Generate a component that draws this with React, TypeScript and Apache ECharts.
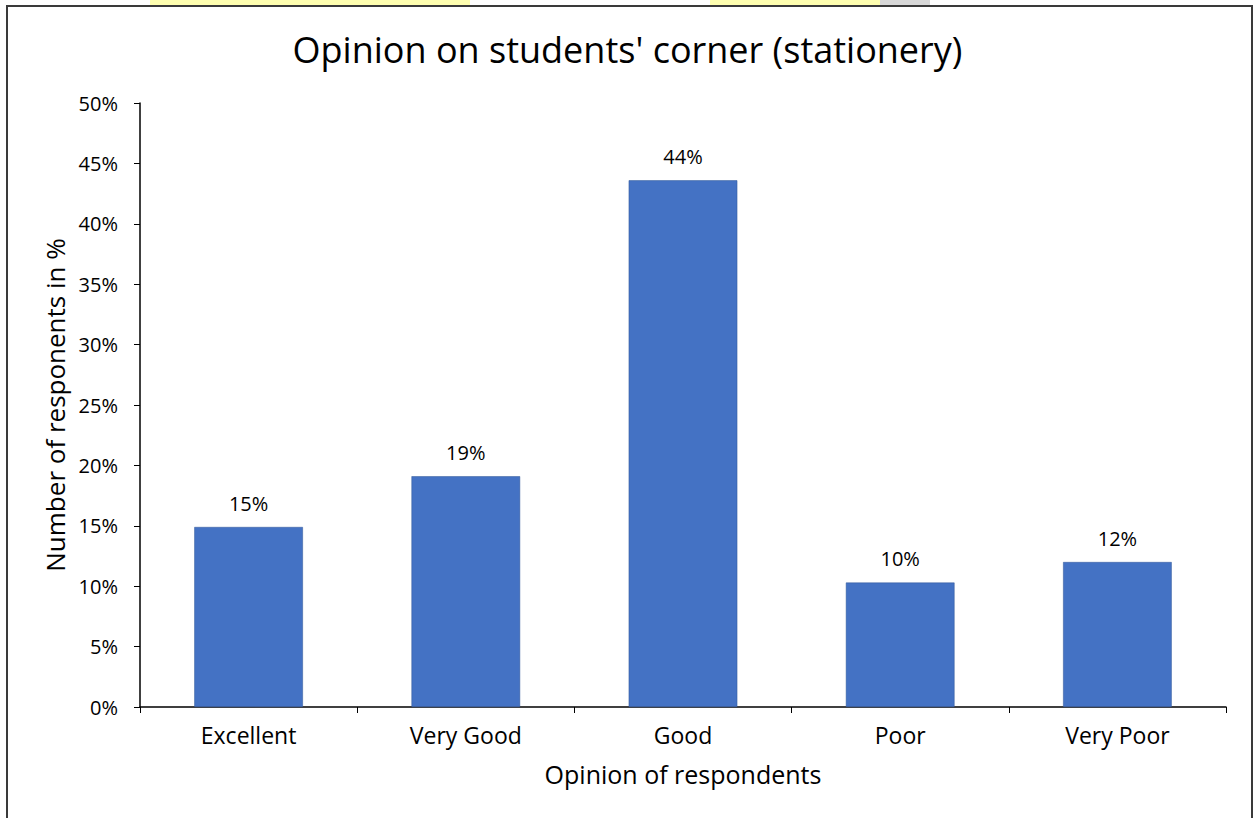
import React, { useEffect, useRef } from "react";
import * as echarts from "echarts";

const categories = ["Excellent", "Very Good", "Good", "Poor", "Very Poor"];
const values = [14.9, 19.1, 43.6, 10.3, 12.0];
const yTicks = { min: 0, max: 50, interval: 5 };
const titleText = "Opinion on students' corner (stationery)";
const xName = "Opinion of respondents";
const yName = "Number of responents in %";

const FONT = "'Open Sans', 'Noto Sans', sans-serif";

export default function App() {
  const ref = useRef<HTMLDivElement>(null);
  useEffect(() => {
    if (!ref.current) return;
    const chart = echarts.init(ref.current, undefined, { renderer: "svg" });
    chart.setOption({
      animation: false,
      backgroundColor: "#ffffff",
      title: {
        text: titleText,
        left: "center",
        top: 26,
        textStyle: { fontFamily: FONT, fontSize: 36, fontWeight: "normal", color: "#000" },
      },
      graphic: [
        { type: "rect", shape: { x: 150, y: 0, width: 320, height: 5 }, style: { fill: "#ffffb0" }, silent: true },
        { type: "rect", shape: { x: 710, y: 0, width: 170, height: 5 }, style: { fill: "#ffffb0" }, silent: true },
        { type: "rect", shape: { x: 880, y: 0, width: 50, height: 5 }, style: { fill: "#d8d8d8" }, silent: true },
        {
          type: "polyline",
          shape: { points: [[7, 818], [7, 6], [1252, 6], [1252, 818]] },
          style: { stroke: "#3a3a3a", lineWidth: 2, fill: "none" },
          silent: true,
        },
      ],
      grid: { left: 140, right: 29, top: 103, bottom: 111, containLabel: false },
      xAxis: {
        type: "category",
        data: categories,
        name: xName,
        nameLocation: "middle",
        nameGap: 54,
        nameTextStyle: { fontFamily: FONT, fontSize: 25, color: "#000" },
        axisLine: { lineStyle: { color: "#000", width: 1.5 } },
        axisTick: { show: true, alignWithLabel: false, length: 6, lineStyle: { color: "#000" } },
        axisLabel: { fontFamily: FONT, fontSize: 23, color: "#000", margin: 16 },
      },
      yAxis: {
        type: "value",
        min: yTicks.min,
        max: yTicks.max,
        interval: yTicks.interval,
        name: yName,
        nameLocation: "middle",
        nameGap: 70,
        nameTextStyle: { fontFamily: FONT, fontSize: 26, color: "#000" },
        axisLine: { show: true, lineStyle: { color: "#000", width: 1.5 } },
        axisTick: { show: true, length: 6, lineStyle: { color: "#000" } },
        splitLine: { show: false },
        axisLabel: { fontFamily: FONT, fontSize: 20, color: "#000", margin: 22, formatter: "{value}%" },
      },
      series: [
        {
          type: "bar",
          data: values,
          barWidth: "50%",
          itemStyle: { color: "#4472C4", borderColor: "#2F5597", borderWidth: 0.5 },
          label: {
            show: true,
            position: "top",
            distance: 14,
            fontFamily: FONT,
            fontSize: 20,
            color: "#000",
            formatter: (p: any) => Math.round(p.value) + "%",
          },
        },
      ],
    });
    return () => chart.dispose();
  }, []);
  return <div ref={ref} style={{ position: "fixed", left: 0, top: 0, width: 1255, height: 818 }} />;
}
